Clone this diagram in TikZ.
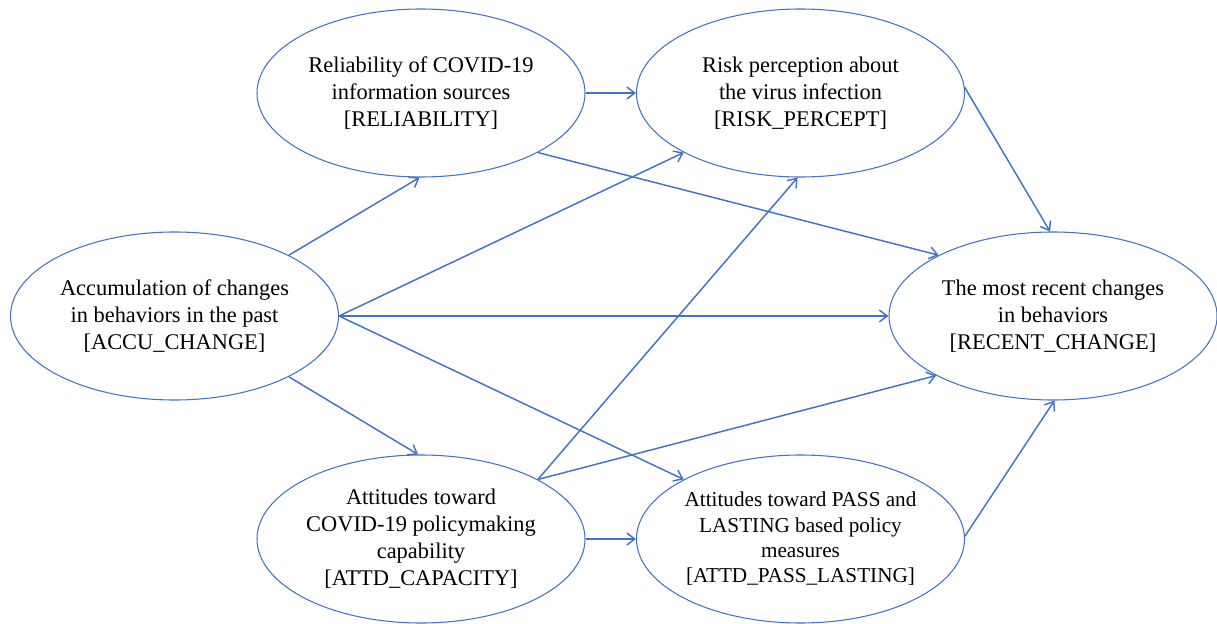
\documentclass[tikz,border=0pt]{standalone}
\usepackage{fontspec}
\setmainfont{Liberation Serif}
\usetikzlibrary{shapes.geometric,arrows.meta}
\definecolor{blu}{HTML}{4472C4}
\begin{document}
\begin{tikzpicture}[x=0.75pt,y=-0.75pt,
  var/.style={ellipse,draw=blu,line width=0.8pt,minimum width=246pt,minimum height=126pt,inner sep=-30pt,
    align=center,font=\fontsize{16.8pt}{20.3pt}\selectfont,text=black},
  arr/.style={draw=blu,line width=1.1pt,-{Straight Barb[length=6pt,width=9pt,line width=1.1pt]}}]
\useasboundingbox (0,0) rectangle (1217,624);
\node[var] (accu) at (174.5,316) {Accumulation of changes\\in behaviors in the past\\{[ACCU\_CHANGE]}};
\node[var] (rel) at (421,93) {Reliability of COVID-19\\information sources\\{[RELIABILITY]}};
\node[var] (risk) at (800.5,93) {Risk perception about\\the virus infection\\{[RISK\_PERCEPT]}};
\node[var] (recent) at (1053,316) {The most recent changes\\in behaviors\\{[RECENT\_CHANGE]}};
\node[var] (cap) at (421,539) {Attitudes toward\\COVID-19 policymaking\\capability\\{[ATTD\_CAPACITY]}};
\node[var,font=\fontsize{15.9pt}{19pt}\selectfont] (pass) at (800.5,539) {Attitudes toward PASS and\\LASTING based policy\\measures\\{[ATTD\_PASS\_LASTING]}};
\draw[arr] (accu.28) -- (rel.-91);
\draw[arr] (accu.east) -- (risk.207);
\draw[arr] (accu.east) -- (recent.west);
\draw[arr] (accu.-28) -- (cap.92);
\draw[arr] (accu.east) -- (pass.153);
\draw[arr] (rel.east) -- (risk.west);
\draw[arr] (rel.-27) -- (recent.152);
\draw[arr] (risk.2) -- (recent.92);
\draw[arr] (cap.27) -- (risk.-92);
\draw[arr] (cap.27) -- (recent.207);
\draw[arr] (cap.east) -- (pass.west);
\draw[arr] (pass.1) -- (recent.-89);
\end{tikzpicture}
\end{document}
